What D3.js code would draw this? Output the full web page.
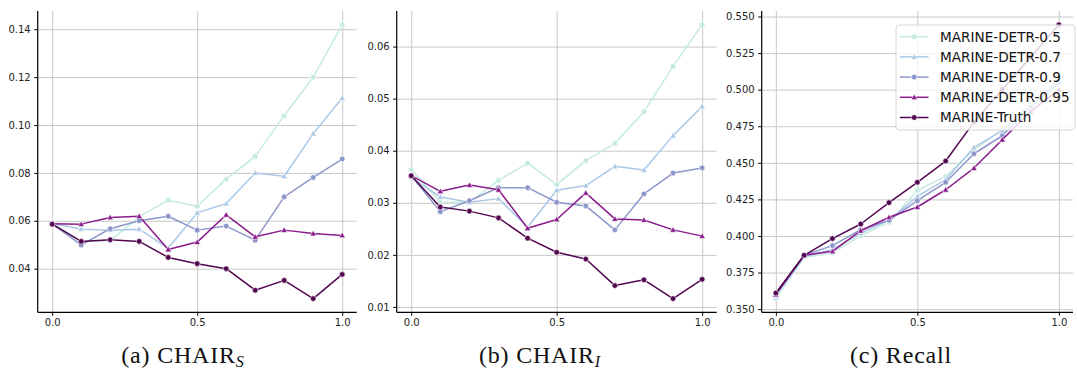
<!DOCTYPE html>
<html>
<head>
<meta charset="utf-8">
<script src="https://cdn.jsdelivr.net/npm/d3@7/dist/d3.min.js"></script>
<style>
  body { margin: 0; background: #fff; }
  svg { display: block; }
  .tick text { font-family: "DejaVu Sans", sans-serif; font-size: 10px; fill: #222; }
  .grid line { stroke: #c8c8c8; stroke-width: 1; }
  .grid path { display: none; }
</style>
</head>
<body>
<svg id="chart" width="1077" height="371"></svg>
<script>
// x values shared by all panels
var xs = [0, 0.1, 0.2, 0.3, 0.4, 0.5, 0.6, 0.7, 0.8, 0.9, 1.0];
var seriesNames = ["MARINE-DETR-0.5", "MARINE-DETR-0.7", "MARINE-DETR-0.9", "MARINE-DETR-0.95", "MARINE-Truth"];
var xTicks = [0, 0.5, 1.0];

// (a) CHAIR_S
var chairS05 = [0.0592, 0.0513, 0.0517, 0.0617, 0.0686, 0.0661, 0.0774, 0.0869, 0.1039, 0.1200, 0.1419];
var chairS07 = [0.0590, 0.0565, 0.0561, 0.0565, 0.0485, 0.0633, 0.0672, 0.0800, 0.0786, 0.0964, 0.1113];
var chairS09 = [0.0587, 0.0499, 0.0567, 0.0600, 0.0619, 0.0561, 0.0578, 0.0519, 0.0700, 0.0781, 0.0858];
var chairS095 = [0.0588, 0.0586, 0.0614, 0.0619, 0.0480, 0.0511, 0.0625, 0.0533, 0.0561, 0.0547, 0.0539];
var chairSTruth = [0.0586, 0.0514, 0.0521, 0.0514, 0.0447, 0.0421, 0.0400, 0.0310, 0.0351, 0.0275, 0.0376];
var chairSTicks = [0.04, 0.06, 0.08, 0.10, 0.12, 0.14];

// (b) CHAIR_I
var chairI05 = [0.0364, 0.0301, 0.0301, 0.0343, 0.0376, 0.0335, 0.0381, 0.0414, 0.0475, 0.0562, 0.0642];
var chairI07 = [0.0349, 0.0311, 0.0301, 0.0308, 0.0253, 0.0324, 0.0333, 0.0370, 0.0363, 0.0429, 0.0485];
var chairI09 = [0.0352, 0.0283, 0.0304, 0.0329, 0.0329, 0.0301, 0.0294, 0.0248, 0.0317, 0.0357, 0.0367];
var chairI095 = [0.0352, 0.0322, 0.0334, 0.0325, 0.0251, 0.0268, 0.0319, 0.0269, 0.0267, 0.0248, 0.0236];
var chairITruth = [0.0352, 0.0292, 0.0284, 0.0271, 0.0232, 0.0205, 0.0192, 0.0141, 0.0152, 0.0116, 0.0153];
var chairITicks = [0.01, 0.02, 0.03, 0.04, 0.05, 0.06];

// (c) Recall
var recall05 = [0.3572, 0.3854, 0.3884, 0.4002, 0.4093, 0.4312, 0.4408, 0.4590, 0.4726, 0.4890, 0.5070];
var recall07 = [0.3595, 0.3860, 0.3907, 0.4020, 0.4107, 0.4271, 0.4385, 0.4606, 0.4720, 0.4895, 0.5060];
var recall09 = [0.3605, 0.3868, 0.3934, 0.4043, 0.4107, 0.4241, 0.4367, 0.4562, 0.4685, 0.4880, 0.5045];
var recall095 = [0.3600, 0.3868, 0.3895, 0.4036, 0.4128, 0.4198, 0.4316, 0.4464, 0.4658, 0.4850, 0.5000];
var recallTruth = [0.3610, 0.3868, 0.3982, 0.4082, 0.4228, 0.4367, 0.4512, 0.4778, 0.5000, 0.5222, 0.5444];
var recallTicks = [0.350, 0.375, 0.400, 0.425, 0.450, 0.475, 0.500, 0.525, 0.550];

var colors = ["#c4eae1", "#aac8e6", "#8d96cb", "#891b8b", "#52064f"];
var markers = ["circle", "triangle", "circle", "triangle", "circle"];

var panels = [
  {left: 37.7, right: 356.7, series: [chairS05, chairS07, chairS09, chairS095, chairSTruth], ticks: chairSTicks, fmt: ".2f", caption: ["(a) CHAIR", "S"], cx: 183},
  {left: 396.7, right: 716.7, series: [chairI05, chairI07, chairI09, chairI095, chairITruth], ticks: chairITicks, fmt: ".2f", caption: ["(b) CHAIR", "I"], cx: 540},
  {left: 761.7, right: 1073, series: [recall05, recall07, recall09, recall095, recallTruth], ticks: recallTicks, fmt: ".3f", caption: ["(c) Recall", ""], cx: 901}
];
var plotTop = 11, plotBottom = 312.3;

var svg = d3.select("#chart");

function drawMarker(g, type, cx, cy, color) {
  if (type === "circle") {
    g.append("circle").attr("cx", cx).attr("cy", cy).attr("r", 2.8)
      .attr("fill", color).attr("stroke", "#fff").attr("stroke-width", 0.6);
  } else {
    var s = 3.2;
    g.append("path")
      .attr("d", "M" + cx + "," + (cy - s) + "L" + (cx + s) + "," + (cy + s * 0.75) + "L" + (cx - s) + "," + (cy + s * 0.75) + "Z")
      .attr("fill", color).attr("stroke", "#fff").attr("stroke-width", 0.6);
  }
}

panels.forEach(function(p, pi) {
  var all = [].concat.apply([], p.series);
  var lo = d3.min(all), hi = d3.max(all), pad = (hi - lo) * 0.05;

  var x = d3.scaleLinear().domain([-0.05, 1.05]).range([p.left, p.right]);
  var y = d3.scaleLinear().domain([lo - pad, hi + pad]).range([plotBottom, plotTop]);

  var g = svg.append("g");

  // gridlines
  g.append("g").attr("class", "grid")
    .attr("transform", "translate(0," + plotBottom + ")")
    .call(d3.axisBottom(x).tickValues(xTicks).tickSize(-(plotBottom - plotTop)).tickFormat(""));
  g.append("g").attr("class", "grid")
    .attr("transform", "translate(" + p.left + ",0)")
    .call(d3.axisLeft(y).tickValues(p.ticks).tickSize(-(p.right - p.left)).tickFormat(""));

  // lines and markers
  var line = d3.line()
    .x(function(d, i) { return x(xs[i]); })
    .y(function(d) { return y(d); });

  p.series.forEach(function(vals, si) {
    g.append("path").datum(vals)
      .attr("fill", "none")
      .attr("stroke", colors[si])
      .attr("stroke-width", 1.5)
      .attr("stroke-linejoin", "round")
      .attr("d", line);
    vals.forEach(function(v, i) {
      drawMarker(g, markers[si], x(xs[i]), y(v), colors[si]);
    });
  });

  // axes
  var xa = g.append("g").attr("transform", "translate(0," + plotBottom + ")")
    .call(d3.axisBottom(x).tickValues(xTicks).tickSize(3.5).tickPadding(3.5).tickFormat(d3.format(".1f")));
  xa.select(".domain").attr("stroke", "#000").attr("stroke-width", 1.2)
    .attr("d", "M" + p.left + ",0H" + p.right);
  var ya = g.append("g").attr("transform", "translate(" + p.left + ",0)")
    .call(d3.axisLeft(y).tickValues(p.ticks).tickSize(3.5).tickPadding(3.5).tickFormat(d3.format(p.fmt)));
  ya.select(".domain").attr("stroke", "#000").attr("stroke-width", 1.2)
    .attr("d", "M0," + plotTop + "V" + plotBottom);

  // caption
  var cap = svg.append("text")
    .attr("x", p.cx).attr("y", 363)
    .attr("text-anchor", "middle")
    .attr("font-family", "'Liberation Serif', 'DejaVu Serif', serif")
    .attr("font-size", 24)
    .attr("letter-spacing", 0.8)
    .attr("fill", "#111");
  cap.append("tspan").text(p.caption[0]);
  if (p.caption[1]) {
    cap.append("tspan").attr("dy", 4).attr("font-size", 16).attr("font-style", "italic").text(p.caption[1]);
  }

  // legend on the recall panel
  if (pi === 2) {
    var lg = svg.append("g");
    lg.append("rect")
      .attr("x", 896).attr("y", 25).attr("width", 179).attr("height", 105)
      .attr("rx", 3).attr("fill", "#fff").attr("fill-opacity", 0.8)
      .attr("stroke", "#d6d6d6").attr("stroke-width", 1);
    seriesNames.forEach(function(name, si) {
      var yy = 36.7 + si * 20.2;
      lg.append("line").attr("x1", 900).attr("x2", 928.5).attr("y1", yy).attr("y2", yy)
        .attr("stroke", colors[si]).attr("stroke-width", 1.5);
      drawMarker(lg, markers[si], 914.2, yy, colors[si]);
      lg.append("text").attr("x", 940).attr("y", yy).attr("dy", "0.36em")
        .attr("font-family", "'DejaVu Sans', sans-serif").attr("font-size", 13.6)
        .attr("fill", "#111").text(name);
    });
  }
});
</script>
</body>
</html>
